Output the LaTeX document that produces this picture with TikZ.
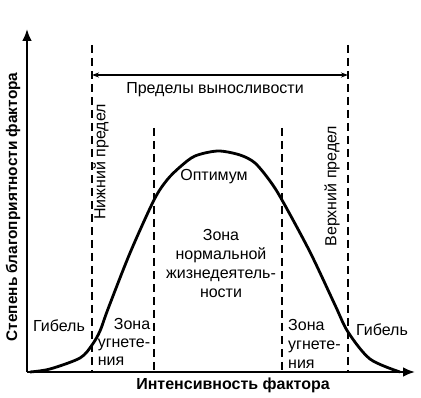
\documentclass[tikz,border=0pt]{standalone}
\usepackage{fontspec}
\setmainfont{Liberation Sans}
\usetikzlibrary{arrows.meta}
\begin{document}
\begin{tikzpicture}[x=1pt,y=-1pt,
  axis/.style={line width=2.6pt,-{Latex[length=12pt,width=10pt]}},
  limitline/.style={line width=1.6pt,dash pattern=on 8pt off 5pt},
  curveline/.style={line width=2.8pt},
  lbl/.style={font=\fontsize{16}{19}\selectfont,align=center,inner sep=0pt},
  blbl/.style={font=\fontsize{16}{19}\selectfont\bfseries,inner sep=0pt}]
\useasboundingbox (0,0) rectangle (421,398);
% axes
\coordinate (O) at (27,372);
\coordinate (Ytop) at (27,29);
\coordinate (Xend) at (415,372);
\draw[axis] (O) -- (Ytop);
\draw[axis] (O) -- (Xend);
% limit lines
\coordinate (L1t) at (92,45);  \coordinate (L1b) at (92,372);
\coordinate (L2t) at (154,128); \coordinate (L2b) at (154,372);
\coordinate (L3t) at (282,128); \coordinate (L3b) at (282,372);
\coordinate (L4t) at (348,45);  \coordinate (L4b) at (348,372);
\draw[limitline] (L1t) -- (L1b);
\draw[limitline] (L2t) -- (L2b);
\draw[limitline] (L3t) -- (L3b);
\draw[limitline] (L4t) -- (L4b);
% tolerance range arrow
\coordinate (Ra) at (92,75);
\coordinate (Rb) at (348,75);
\draw[line width=1.1pt,{Stealth[length=7pt,width=5pt]}-{Stealth[length=7pt,width=5pt]}] (Ra) -- (Rb);
\node[lbl] (range) at (215,90) {Пределы выносливости};
% curve
\draw[curveline] plot[smooth,tension=0.5] coordinates {
 (30,372) (50,369) (80,358) (92,345) (100,331) (108,309) (130,253) (154,200) (167,180) (180,167)
 (195,156) (218,151) (240,155) (255,163) (270,181) (282,200) (310,252) (335,305) (348,332) (370,359) (400,372)};
% labels
\node[blbl,rotate=90,font=\fontsize{15.4}{19}\selectfont\bfseries] (ylab) at (13,207) {Степень благоприятности фактора};
\node[blbl] (xlab) at (233,385) {Интенсивность фактора};
\node[lbl,rotate=90] (low) at (101,162) {Нижний предел};
\node[lbl,rotate=90] (up) at (332,186) {Верхний предел};
\node[lbl] (opt) at (214,177) {Оптимум};
\node[lbl] (norm) at (221,263) {Зона\\нормальной\\жизнедеятель-\\ности};
\node[lbl] (death1) at (59,326) {Гибель};
\node[lbl] (opp1) at (124,344) {\begin{tabular}{@{}r@{}}Зона\\[-1pt]угнете-\\[-1pt]\multicolumn{1}{@{}l@{}}{ния}\end{tabular}};
\node[lbl,align=left,anchor=west] (opp2) at (288,344) {Зона\\угнете-\\ния};
\node[lbl] (death2) at (382,330) {Гибель};
\end{tikzpicture}
\end{document}
